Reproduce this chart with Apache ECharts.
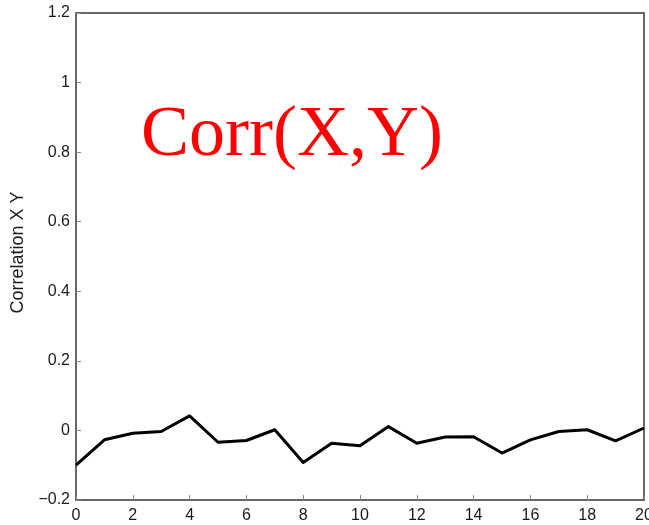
<!DOCTYPE html>
<html>
<head>
<meta charset="utf-8">
<script src="https://cdn.jsdelivr.net/npm/echarts@6/dist/echarts.min.js"></script>
<style>
  html, body { margin: 0; padding: 0; background: #fff; }
  #chart { width: 649px; height: 525px; }
</style>
</head>
<body>
<div id="chart"></div>
<script>
// Lag index and correlation values
const lags = [0, 1, 2, 3, 4, 5, 6, 7, 8, 9, 10, 11, 12, 13, 14, 15, 16, 17, 18, 19, 20];
const corrXY = [-0.100, -0.027, -0.008, -0.003, 0.042, -0.034, -0.029, 0.002, -0.092, -0.037,
                -0.044, 0.011, -0.037, -0.019, -0.018, -0.065, -0.027, -0.003, 0.002, -0.030, 0.007];

const titleText = 'Corr(X,Y)';
const yAxisName = 'Correlation X Y';

const points = lags.map((x, i) => [x, corrXY[i]]);

function fmtTick(v) {
  const r = Math.round(v * 10) / 10;
  const s = String(r);
  return s.replace('-', '\u2212');
}

const chart = echarts.init(document.getElementById('chart'), null, { renderer: 'canvas' });

chart.setOption({
  animation: false,
  backgroundColor: '#ffffff',
  title: {
    text: titleText,
    left: 141,
    top: 100,
    padding: 0,
    textStyle: {
      fontFamily: '"Liberation Serif", "DejaVu Serif", serif',
      fontSize: 72,
      fontWeight: 'normal',
      color: '#ff0000'
    }
  },
  grid: {
    left: 76,
    right: 5,
    top: 13,
    bottom: 25,
    outerBoundsMode: 'none',
    containLabel: false,
    show: true,
    borderColor: '#666',
    borderWidth: 2,
    backgroundColor: 'transparent'
  },
  xAxis: {
    type: 'value',
    min: 0,
    max: 20,
    interval: 2,
    axisLine: { show: true, onZero: false, lineStyle: { color: '#666', width: 2 } },
    axisTick: { show: true, inside: true, length: 5, lineStyle: { color: '#888', width: 1 } },
    axisLabel: {
      margin: 8,
      fontFamily: '"Liberation Sans", Arial, sans-serif',
      fontSize: 16,
      color: '#1a1a1a',
      formatter: fmtTick,
      showMinLabel: true,
      showMaxLabel: true
    },
    splitLine: { show: false }
  },
  yAxis: {
    type: 'value',
    min: -0.2,
    max: 1.2,
    interval: 0.2,
    name: yAxisName,
    nameLocation: 'middle',
    nameGap: 47,
    nameRotate: 90,
    nameTextStyle: {
      fontFamily: '"Liberation Sans", Arial, sans-serif',
      fontSize: 18,
      color: '#1a1a1a',
      padding: [0, 0, 0, 8]
    },
    axisLine: { show: true, lineStyle: { color: '#666', width: 2 } },
    axisTick: { show: true, inside: true, length: 5, lineStyle: { color: '#888', width: 1 } },
    axisLabel: {
      margin: 6,
      fontFamily: '"Liberation Sans", Arial, sans-serif',
      fontSize: 16,
      color: '#1a1a1a',
      formatter: fmtTick
    },
    splitLine: { show: false }
  },
  series: [{
    type: 'line',
    data: points,
    showSymbol: false,
    symbol: 'none',
    lineStyle: { color: '#000', width: 3, join: 'round' },
    clip: false
  }]
});
</script>
</body>
</html>
